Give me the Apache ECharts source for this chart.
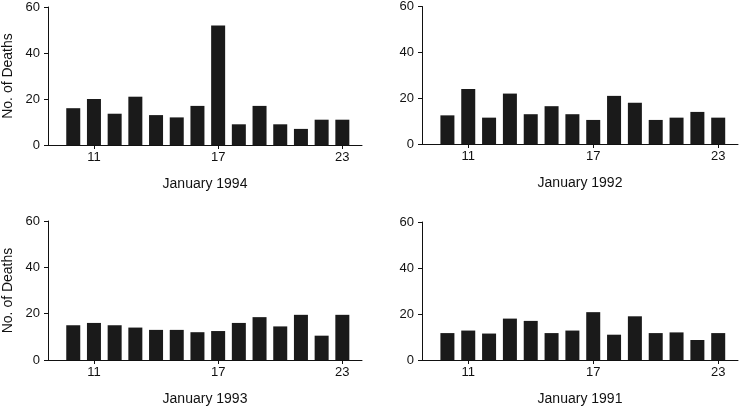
<!DOCTYPE html>
<html>
<head>
<meta charset="utf-8">
<script src="https://cdn.jsdelivr.net/npm/echarts@6/dist/echarts.min.js"></script>
<style>html,body{margin:0;padding:0;background:#fff}#c{width:740px;height:410px}</style>
</head>
<body>
<div id="c"></div>
<script>
const days = [10,11,12,13,14,15,16,17,18,19,20,21,22,23];
const xTickValues = [11,17,23];
const yTickValues = [0,20,40,60];
const titles = ["January 1994","January 1992","January 1993","January 1991"];
const yAxisTitle = "No. of Deaths";
const deaths1994 = [16,20,13.6,21,13,12,17,52,9,17,9,7,11,11];
const deaths1992 = [12.5,24,11.5,22,13,16.5,13,10.5,21,18,10.5,11.5,14,11.5];
const deaths1993 = [15,16,15,14,13,13,12,12.5,16,18.5,14.5,19.5,10.5,19.5];
const deaths1991 = [11.7,12.8,11.5,18,17,11.7,12.8,20.8,11,19,11.7,12,8.7,11.7];
const panelValues = [deaths1994, deaths1992, deaths1993, deaths1991];

const grids = [
  {left:48, top:7, width:314, height:138},
  {left:422, top:5, width:316, height:139},
  {left:48, top:221, width:314, height:139},
  {left:422, top:222, width:316, height:138}
];
const font = 'Liberation Sans, Arial, Helvetica, sans-serif';
const xAxes = [], yAxes = [], series = [];
grids.forEach((g, i) => {
  xAxes.push({
    type:'value', gridIndex:i, min:8.78, max:23.95,
    name: titles[i], nameLocation:'middle', nameGap:32,
    nameTextStyle:{color:'#111', fontSize:14, fontFamily:font},
    axisLine:{show:true, lineStyle:{color:'#111', width:1}},
    axisTick:{show:true, length:4, lineStyle:{color:'#111'}, customValues:xTickValues},
    axisLabel:{color:'#111', fontSize:13, fontFamily:font, margin:6, customValues:xTickValues},
    splitLine:{show:false}
  });
  yAxes.push({
    type:'value', gridIndex:i, min:0, max:60, interval:20,
    name: (i % 2 === 0) ? yAxisTitle : '', nameLocation:'middle', nameGap:33, nameRotate:90,
    nameTextStyle:{color:'#111', fontSize:14, fontFamily:font},
    axisLine:{show:true, lineStyle:{color:'#111', width:1}},
    axisTick:{show:true, length:4, lineStyle:{color:'#111'}},
    axisLabel:{color:'#111', fontSize:13, fontFamily:font, margin:8},
    splitLine:{show:false}
  });
  series.push({
    type:'bar', xAxisIndex:i, yAxisIndex:i, barWidth:14,
    itemStyle:{color:'#1a1a1a'},
    data: days.map((d, k) => [d, panelValues[i][k]])
  });
});
const chart = echarts.init(document.getElementById('c'));
chart.setOption({
  animation:false,
  grid: grids.map(g => Object.assign({containLabel:false}, g)),
  xAxis: xAxes, yAxis: yAxes, series: series
});
</script>
</body>
</html>
